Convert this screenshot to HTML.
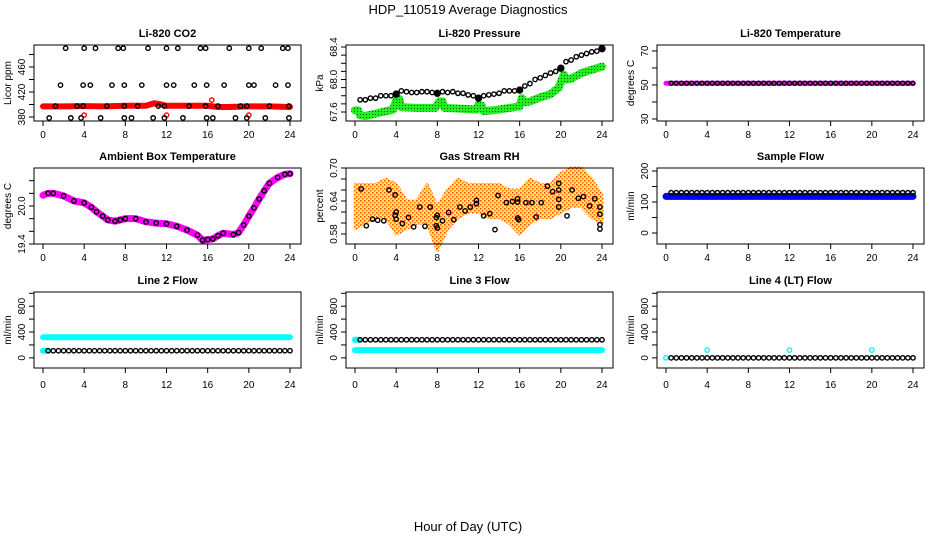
<!DOCTYPE html>
<html><head><meta charset="utf-8">
<style>
html,body{margin:0;padding:0;background:#fff;}
svg{display:block;font-family:"Liberation Sans",Arial,sans-serif;}
</style></head>
<body>
<svg id="c" width="936" height="540" viewBox="0 0 936 540" xmlns="http://www.w3.org/2000/svg">
<defs>
<pattern id="gp" width="3" height="3" patternUnits="userSpaceOnUse"><rect width="3" height="3" fill="#22ee22"/><rect width="1" height="1" fill="#0a5a0a"/></pattern>
<pattern id="op" width="4" height="4" patternUnits="userSpaceOnUse"><rect width="4" height="4" fill="#ffe040"/><rect width="1.5" height="1.5" fill="#ff2000"/><rect x="2" y="2" width="1.5" height="1.5" fill="#ff5000"/></pattern>
</defs>
<text x="468" y="14" text-anchor="middle" font-size="13">HDP_110519  Average Diagnostics</text>
<text x="468" y="531" text-anchor="middle" font-size="13">Hour of Day (UTC)</text>
</svg>
<script>
// ---- data ----
const xTicks=[0,4,8,12,16,20,24];
const co2TopHours=[2.2,4.0,5.1,7.3,7.8,10.2,12.0,13.1,15.3,15.8,18.1,20.0,21.2,23.3,23.8];
const co2MidHours=[1.7,3.9,4.6,6.7,7.9,9.6,12.0,12.7,14.7,15.9,17.6,20.0,20.5,22.6,23.8];
const co2LowHours=[0.6,2.7,3.7,5.6,7.9,8.6,10.7,11.8,13.6,15.9,16.5,18.7,19.8,21.6,23.9];
const co2BandHours=[1.2,3.3,3.9,6.2,7.9,9.2,11.2,11.8,14.2,15.8,17.0,19.2,19.8,22.0,23.9];
const co2Levels=[490,431,378.5,397.5];
const co2RedHours=[0,2,4,6,8,10,10.8,11.5,12,14,16,17,18,20,22,24];
const co2RedVals=[397,397,397.5,397,398,398,402,400,398,398,398,396,396,397,397,396];
const co2RedPtHours=[4.0,12.0,16.4,20.0];
const co2RedPtVals=[383,383,407,383];
const presHours=[0.5,1,1.5,2,2.5,3,3.5,4,4.5,5,5.5,6,6.5,7,7.5,8,8.5,9,9.5,10,10.5,11,11.5,12,12.5,13,13.5,14,14.5,15,15.5,16,16.5,17,17.5,18,18.5,19,19.5,20,20.5,21,21.5,22,22.5,23,23.5,24];
const presVals=[67.75,67.75,67.77,67.77,67.8,67.8,67.8,67.82,67.86,67.85,67.84,67.84,67.85,67.85,67.84,67.83,67.85,67.84,67.85,67.83,67.83,67.81,67.8,67.77,67.8,67.81,67.82,67.83,67.86,67.86,67.86,67.87,67.92,67.95,68.0,68.02,68.05,68.08,68.1,68.14,68.22,68.24,68.28,68.3,68.32,68.34,68.35,68.38];
const presGreenHours=[0,0.3,0.5,1,2,3,3.7,4,4.3,4.5,6,7.8,8.2,8.5,8.7,11.8,12,12.3,12.5,14,16,16.2,16.5,17,18,19,19.8,20,20.3,20.5,21,22,23,24];
const presGreenVals=[67.62,67.62,67.56,67.55,67.58,67.61,67.63,67.74,67.76,67.66,67.65,67.65,67.73,67.73,67.65,67.63,67.69,67.68,67.61,67.63,67.67,67.77,67.72,67.73,67.78,67.82,67.9,67.97,68.06,68.0,68.01,68.08,68.12,68.16];
const tempVal=51;
const ambHours=[0,0.5,1,2,3,4,4.7,5.2,5.8,6.3,7,7.5,8,9,10,11,12,13,14,15,15.5,16,16.5,17,17.5,18.5,19,19.5,20,20.5,21,21.5,22,22.8,23.5,24];
const ambVals=[20.17,20.2,20.2,20.16,20.08,20.05,19.98,19.91,19.84,19.78,19.76,19.78,19.8,19.8,19.75,19.73,19.72,19.68,19.62,19.54,19.46,19.47,19.48,19.53,19.57,19.55,19.58,19.7,19.84,19.97,20.11,20.24,20.36,20.45,20.5,20.51];
const rhHours=[0,1,2,3,4,5,6,7,8,9,10,11,12,13,14,15,16,17,18,19,20,21,22,23,24];
const rhLow=[0.59,0.60,0.61,0.61,0.58,0.59,0.60,0.60,0.55,0.59,0.61,0.62,0.62,0.61,0.61,0.60,0.58,0.60,0.61,0.61,0.62,0.63,0.63,0.61,0.60];
const rhHigh=[0.67,0.67,0.67,0.68,0.67,0.64,0.64,0.67,0.63,0.66,0.68,0.67,0.67,0.67,0.67,0.66,0.66,0.68,0.67,0.67,0.69,0.70,0.70,0.68,0.65];
const rhPtHours=[0.6,1.1,1.7,2.2,2.8,3.3,3.9,3.9,4.0,4.0,4.6,5.2,5.7,6.3,6.8,7.3,7.9,7.9,8.0,8.0,8.5,9.1,9.6,10.2,10.7,11.2,11.8,11.8,12.5,13.1,13.6,13.9,14.7,15.3,15.8,15.8,15.8,15.9,16.6,17.2,17.6,18.1,18.7,19.2,19.8,19.8,19.8,19.8,20.6,21.1,21.7,22.2,22.8,23.3,23.8,23.8,23.8,23.8];
const rhPtVals=[0.662,0.595,0.607,0.605,0.604,0.66,0.651,0.614,0.62,0.607,0.599,0.61,0.593,0.629,0.594,0.629,0.61,0.595,0.591,0.614,0.604,0.619,0.606,0.629,0.622,0.629,0.641,0.635,0.613,0.617,0.588,0.65,0.637,0.639,0.644,0.638,0.609,0.606,0.637,0.637,0.611,0.637,0.667,0.657,0.672,0.66,0.643,0.629,0.613,0.66,0.645,0.648,0.631,0.644,0.629,0.616,0.597,0.589];
const sampleBlue=118, sampleBlack=130;
const line2Cyan=320, line2Black=110;
const line3Cyan=120, line3Black=280;
const line4Base=0, line4SpikeHours=[4,12,20], line4SpikeVal=120;

// ---- layout ----
const svg=document.getElementById('c');
const NS='http://www.w3.org/2000/svg';
const colX=[34,346,657], rowY=[45,168,292], W=267, H=76;
function el(tag,attrs,parent){const e=document.createElementNS(NS,tag);for(const k in attrs)e.setAttribute(k,attrs[k]);(parent||svg).appendChild(e);return e;}
function panel(col,row,title,ylab,ylim,yticks,ylabels,dec,name){
  const g=el('g',{});
  
  
  const L=colX[col],T=rowY[row];
  const sx=h=>L+9+h*247/24;
  const sy=v=>T+H-(v-ylim[0])/(ylim[1]-ylim[0])*H;
  const t=el('text',{x:L+W/2,y:T-8,'text-anchor':'middle','font-size':11,'font-weight':'bold'},g);
  t.textContent=title;
  
  
  const yl=el('text',{x:0,y:0,'text-anchor':'middle','font-size':10,transform:`translate(${L-23},${T+H/2}) rotate(-90)`},g);
  yl.textContent=ylab;
  
  
  const ax=el('g',{stroke:'#000','stroke-width':1},g);
  
  
  el('line',{x1:sx(0),x2:sx(24),y1:T+H,y2:T+H},ax);
  xTicks.forEach(h=>{el('line',{x1:sx(h),x2:sx(h),y1:T+H,y2:T+H+5},ax);
    const tx=el('text',{x:sx(h),y:T+H+(row<2?17:20),'text-anchor':'middle','font-size':10,stroke:'none'},g);tx.textContent=h;});
  yticks.forEach(v=>{const y=sy(v);el('line',{x1:L-5,x2:L,y1:y,y2:y},ax);});
  ylabels.forEach(v=>{const y=sy(v);const tx=el('text',{x:0,y:0,'text-anchor':'middle','font-size':10,transform:`translate(${L-9},${y}) rotate(-90)`},g);tx.textContent=v.toFixed(dec);});
  const plot=el('g',{},g);
  
  
  el('rect',{x:L,y:T,width:W,height:H,fill:'none',stroke:'#000','stroke-width':1},g);
  return {plot,sx,sy};
}
function circ(p,h,v,color,fill,r,nm){const c=el('circle',{cx:p.sx(h),cy:p.sy(v),r:r||2.2,fill:fill||'none',stroke:color,'stroke-width':1.4},p.plot);
  
  return c;}
function band(p,hs,vs,color,w,nm){const pl=el('polyline',{points:hs.map((h,i)=>p.sx(h)+','+p.sy(vs[i])).join(' '),fill:'none',stroke:color,'stroke-width':w,'stroke-linejoin':'round','stroke-linecap':'round'},p.plot);
  
  return pl;}
function range(a,b,s){const r=[];for(let v=a;v<=b+1e-9;v+=s)r.push(+v.toFixed(3));return r;}
const steps=range(0.5,24,0.5);

// CO2
let p=panel(0,0,'Li-820 CO2','Licor ppm',[373.6,495.2],range(380,480,20),[380,420,460],0,'co2');
band(p,co2RedHours,co2RedVals,'#ff0000',6,'co2-red-series');
co2RedPtHours.forEach((h,i)=>circ(p,h,co2RedPtVals[i],'#ff0000',null,2.2,'co2-red-point'));
[co2TopHours,co2MidHours,co2LowHours,co2BandHours].forEach((arr,k)=>arr.forEach(h=>circ(p,h,co2Levels[k],'#000',null,2.2,'co2-point')));

// Pressure
p=panel(1,0,'Li-820 Pressure','kPa',[67.489,68.425],range(67.6,68.4,0.1),[67.6,68.0,68.4],1,'pressure');
band(p,presGreenHours,presGreenVals,'url(#gp)',8,'pressure-green-series');
presHours.forEach((h,i)=>circ(p,h,presVals[i],'#000',(h%4===0)?'#000':null,(h%4===0)?3:2.2,'pressure-point'));

// Temperature
p=panel(2,0,'Li-820 Temperature','degrees C',[28.8,73.5],range(30,70,10),[30,50,70],0,'li820-temp');
band(p,[0,24],[tempVal,tempVal],'#ff00ff',5,'temp-magenta-series');
steps.forEach(h=>circ(p,h,tempVal,'#000',null,2,'temp-point'));

// Ambient
p=panel(0,1,'Ambient Box Temperature','degrees C',[19.4,20.6],range(19.4,20.4,0.2),[19.4,20.0],1,'ambient-temp');
band(p,ambHours,ambVals,'#ff00ff',7,'ambient-magenta-series');
ambHours.slice(1).forEach((h,i)=>circ(p,h,ambVals[i+1],'#000',null,2.2,'ambient-point'));

// RH
p=panel(1,1,'Gas Stream RH','percent',[0.5618,0.70],range(0.58,0.70,0.02),[0.58,0.64,0.70],2,'rh');
const bpts=rhHours.map((h,i)=>p.sx(h)+','+p.sy(rhHigh[i])).concat(rhHours.slice().reverse().map((h,i)=>p.sx(h)+','+p.sy(rhLow[rhHours.length-1-i])));
const poly=el('polygon',{points:bpts.join(' '),fill:'url(#op)',stroke:'url(#op)','stroke-width':3,'stroke-linejoin':'round',opacity:0.85},p.plot);


rhPtHours.forEach((h,i)=>circ(p,h,rhPtVals[i],'#000',null,2.2,'rh-point'));

// Sample flow
p=panel(2,1,'Sample Flow','ml/min',[-35.5,209.7],range(0,200,50),[0,100,200],0,'sample-flow');
band(p,[0,24],[sampleBlue,sampleBlue],'#0000ff',7,'sample-blue-series');
steps.forEach(h=>circ(p,h,sampleBlack,'#000',null,2.2,'sample-point'));

// Line 2
p=panel(0,2,'Line 2 Flow','ml/min',[-157,1019.6],range(0,1000,200),[0,400,800],0,'line2-flow');
band(p,[0,24],[line2Cyan,line2Cyan],'#00ffff',6,'line2-cyan-series');
band(p,[0,0.5],[line2Black,line2Black],'#00ffff',6,'line2-cyan-low');
steps.forEach(h=>circ(p,h,line2Black,'#000',null,2.2,'line2-point'));

// Line 3
p=panel(1,2,'Line 3 Flow','ml/min',[-157,1019.6],range(0,1000,200),[0,400,800],0,'line3-flow');
band(p,[0,24],[line3Cyan,line3Cyan],'#00ffff',6,'line3-cyan-series');
band(p,[0,0.4],[line3Black,line3Black],'#00ffff',6,'line3-cyan-high');
steps.forEach(h=>circ(p,h,line3Black,'#000',null,2.2,'line3-point'));

// Line 4
p=panel(2,2,'Line 4 (LT) Flow','ml/min',[-157,1019.6],range(0,1000,200),[0,400,800],0,'line4-flow');
circ(p,0,line4Base,'#00ffff',null,2.2,'line4-cyan-point');
line4SpikeHours.forEach(h=>circ(p,h,line4SpikeVal,'#00ffff',null,2.2,'line4-cyan-point'));
steps.forEach(h=>circ(p,h,line4Base,'#000',null,2.2,'line4-point'));
</script>
</body></html>
